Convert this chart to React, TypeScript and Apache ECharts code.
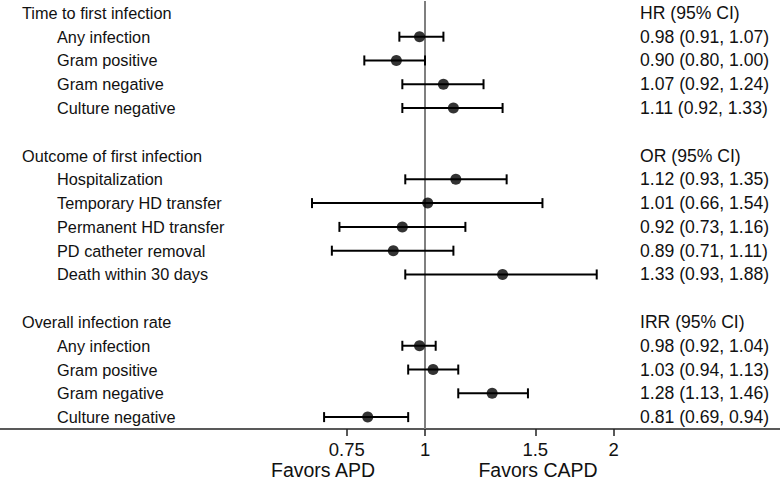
import React, { useEffect, useRef } from "react";
import * as echarts from "echarts";

const rowLabels = [
  "Time to first infection",
  "Any infection",
  "Gram positive",
  "Gram negative",
  "Culture negative",
  "",
  "Outcome of first infection",
  "Hospitalization",
  "Temporary HD transfer",
  "Permanent HD transfer",
  "PD catheter removal",
  "Death within 30 days",
  "",
  "Overall infection rate",
  "Any infection",
  "Gram positive",
  "Gram negative",
  "Culture negative",
];
const headerRows = [0, 6, 13];
const rightLabels = [
  "HR (95% CI)",
  "0.98 (0.91, 1.07)",
  "0.90 (0.80, 1.00)",
  "1.07 (0.92, 1.24)",
  "1.11 (0.92, 1.33)",
  "",
  "OR (95% CI)",
  "1.12 (0.93, 1.35)",
  "1.01 (0.66, 1.54)",
  "0.92 (0.73, 1.16)",
  "0.89 (0.71, 1.11)",
  "1.33 (0.93, 1.88)",
  "",
  "IRR (95% CI)",
  "0.98 (0.92, 1.04)",
  "1.03 (0.94, 1.13)",
  "1.28 (1.13, 1.46)",
  "0.81 (0.69, 0.94)",
];
const estimates = [null, 0.98, 0.9, 1.07, 1.11, null, null, 1.12, 1.01, 0.92, 0.89, 1.33, null, null, 0.98, 1.03, 1.28, 0.81];
const lowerCI = [null, 0.91, 0.8, 0.92, 0.92, null, null, 0.93, 0.66, 0.73, 0.71, 0.93, null, null, 0.92, 0.94, 1.13, 0.69];
const upperCI = [null, 1.07, 1.0, 1.24, 1.33, null, null, 1.35, 1.54, 1.16, 1.11, 1.88, null, null, 1.04, 1.13, 1.46, 0.94];
const xTicks = [0.75, 1, 1.5, 2];
const favorLabels = ["Favors APD", "Favors CAPD"];

const FONT = "'Liberation Sans', Arial, Helvetica, sans-serif";

export default function App() {
  const ref = useRef<HTMLDivElement>(null);
  useEffect(() => {
    if (!ref.current) return;
    const chart = echarts.init(ref.current, null, { renderer: "svg" });
    const points: any[] = [];
    const bars: any[] = [];
    estimates.forEach((v, i) => {
      if (v != null) {
        points.push([v, i]);
        bars.push([i, lowerCI[i], upperCI[i]]);
      }
    });
    chart.setOption({
      animation: false,
      backgroundColor: "#ffffff",
      grid: { left: 0, right: 0, top: 1, height: 428, containLabel: false },
      xAxis: {
        type: "log",
        logBase: Math.E,
        min: 0.2096,
        max: 3.688,
        axisLine: { show: true, lineStyle: { color: "#222", width: 1.5 } },
        axisTick: { show: true, customValues: xTicks, length: 7, lineStyle: { color: "#222", width: 1.5 } },
        axisLabel: {
          show: true,
          customValues: xTicks,
          margin: 11,
          fontSize: 18.5,
          fontFamily: FONT,
          color: "#111",
          formatter: (v: number) => String(Math.round(v * 100) / 100),
        },
        splitLine: { show: false },
        minorTick: { show: false },
      },
      yAxis: [
        {
          type: "category",
          inverse: true,
          data: rowLabels,
          axisLine: { show: false },
          axisTick: { show: false },
          splitLine: { show: false },
          axisLabel: {
            inside: true,
            margin: 22,
            align: "left",
            interval: 0,
            formatter: (v: string, i: number) =>
              v === "" ? "" : headerRows.includes(i) ? `{h|${v}}` : `{s|${v}}`,
            rich: {
              h: { fontSize: 16.3, fontFamily: FONT, color: "#111" },
              s: { fontSize: 16.3, fontFamily: FONT, color: "#111", padding: [0, 0, 0, 35] },
            },
          },
        },
        {
          type: "category",
          inverse: true,
          position: "right",
          data: rightLabels,
          axisLine: { show: false },
          axisTick: { show: false },
          splitLine: { show: false },
          axisLabel: {
            inside: true,
            margin: 140,
            align: "left",
            interval: 0,
            fontSize: 17.6,
            fontFamily: FONT,
            color: "#111",
          },
        },
      ],
      series: [
        {
          type: "custom",
          yAxisIndex: 0,
          data: bars,
          encode: { x: [1, 2], y: 0 },
          z: 3,
          renderItem: (params: any, api: any) => {
            const row = api.value(0);
            const lo = api.coord([api.value(1), row]);
            const hi = api.coord([api.value(2), row]);
            const h = 5;
            const st = { stroke: "#000", lineWidth: 2 };
            return {
              type: "group",
              children: [
                { type: "line", shape: { x1: lo[0], y1: lo[1], x2: hi[0], y2: hi[1] }, style: st },
                { type: "line", shape: { x1: lo[0], y1: lo[1] - h, x2: lo[0], y2: lo[1] + h }, style: st },
                { type: "line", shape: { x1: hi[0], y1: hi[1] - h, x2: hi[0], y2: hi[1] + h }, style: st },
              ],
            };
          },
        },
        {
          type: "scatter",
          yAxisIndex: 0,
          data: points,
          symbol: "circle",
          symbolSize: 11,
          itemStyle: { color: "#000" },
          z: 4,
          markLine: {
            silent: true,
            symbol: "none",
            z: 1,
            label: { show: false },
            lineStyle: { color: "#7f7f7f", width: 2, type: "solid" },
            data: [{ xAxis: 1 }],
          },
        },
      ],
      graphic: [
        {
          type: "text",
          x: 323,
          y: 470,
          style: { text: favorLabels[0], fontSize: 19.5, fontFamily: FONT, fill: "#111", align: "center", verticalAlign: "middle" },
        },
        {
          type: "text",
          x: 538,
          y: 470,
          style: { text: favorLabels[1], fontSize: 19.5, fontFamily: FONT, fill: "#111", align: "center", verticalAlign: "middle" },
        },
      ],
    });
    return () => chart.dispose();
  }, []);
  return (
    <div style={{ position: "fixed", left: 0, top: 0, width: 780, height: 480, background: "#fff" }}>
      <div ref={ref} style={{ width: 780, height: 480 }} />
    </div>
  );
}
